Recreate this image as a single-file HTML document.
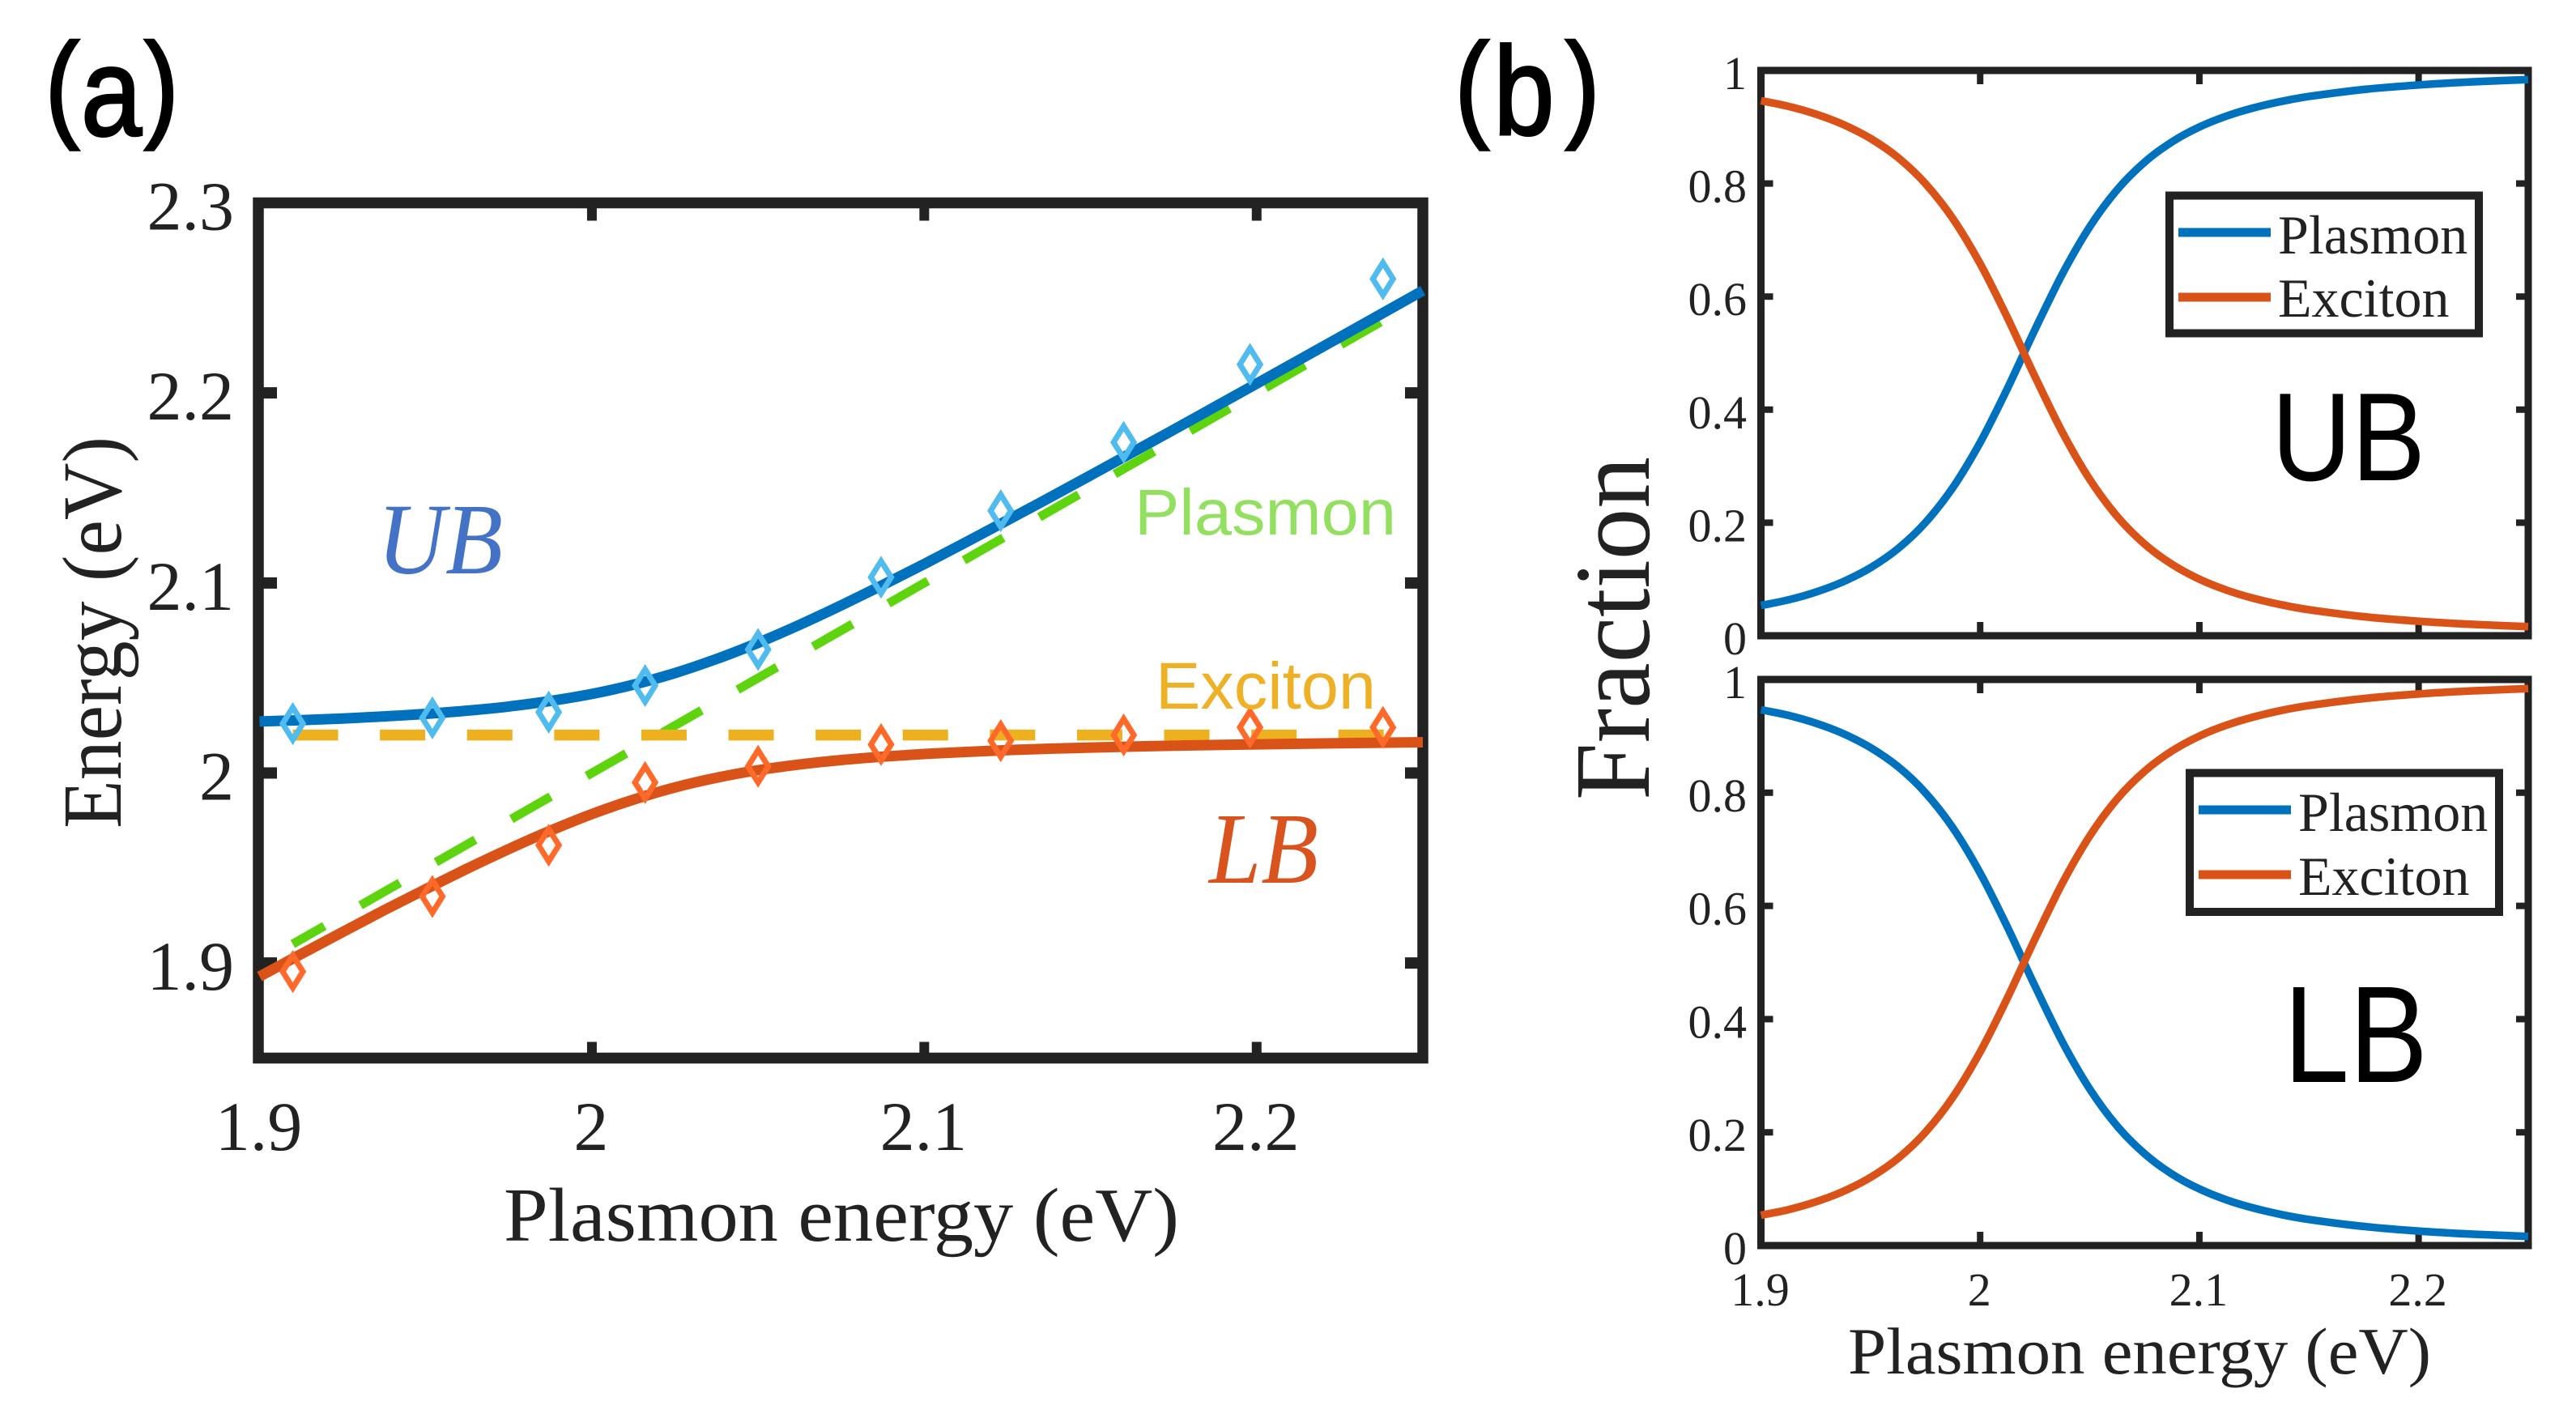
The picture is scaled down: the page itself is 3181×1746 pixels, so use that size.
<!DOCTYPE html>
<html lang="en">
<head>
<meta charset="utf-8">
<title>Plasmon-exciton coupling chart</title>
<style>
html,body{margin:0;padding:0;background:#fff;}
svg{display:block;}
.serif{font-family:"Liberation Serif",serif;fill:#222;}
.sans{font-family:"Liberation Sans",sans-serif;}
</style>
</head>
<body>
<svg id="chart" xmlns="http://www.w3.org/2000/svg" width="3181" height="1746" viewBox="0 0 3181 1746">
  <rect x="0" y="0" width="3181" height="1746" fill="#fff"/>
  <g id="panelA"></g>
  <g id="panelB1"></g>
  <g id="panelB2"></g>

  <text class="sans" transform="scale(0.87 1)" fill="#000" stroke="#000" stroke-width="3"><tspan x="64" y="155" font-size="146">(</tspan><tspan x="115" y="167" font-size="155">a</tspan><tspan x="205" y="155" font-size="146">)</tspan></text>
  <text class="sans" transform="scale(0.87 1)" fill="#000" stroke="#000" stroke-width="3"><tspan x="2065" y="155" font-size="146">(</tspan><tspan x="2120" y="166" font-size="155">b</tspan><tspan x="2222" y="155" font-size="146">)</tspan></text>

  <text class="serif" x="622" y="1532" font-size="94" textLength="834" lengthAdjust="spacingAndGlyphs">Plasmon energy (eV)</text>
  <text class="serif" transform="translate(149,1023) rotate(-90)" font-size="104" textLength="484" lengthAdjust="spacingAndGlyphs">Energy (eV)</text>

  <text font-family="'Liberation Serif',serif" font-style="italic" x="466" y="708" font-size="125" fill="#4472c4" textLength="155" lengthAdjust="spacingAndGlyphs">UB</text>
  <text font-family="'Liberation Serif',serif" font-style="italic" x="1493" y="1090" font-size="125" fill="#d9531e" textLength="135" lengthAdjust="spacingAndGlyphs">LB</text>
  <text class="sans" x="1401" y="660" font-size="80" fill="#93e060" textLength="323" lengthAdjust="spacingAndGlyphs">Plasmon</text>
  <text class="sans" x="1427" y="875" font-size="82" fill="#eeb024" textLength="272" lengthAdjust="spacingAndGlyphs">Exciton</text>

  <text class="serif" transform="translate(2036,988) rotate(-90)" font-size="133" textLength="424" lengthAdjust="spacingAndGlyphs">Fraction</text>
  <text class="serif" x="2282" y="1696" font-size="82" textLength="720" lengthAdjust="spacingAndGlyphs">Plasmon energy (eV)</text>

  <text class="sans" x="2805" y="593" font-size="155" fill="#000" textLength="190" lengthAdjust="spacingAndGlyphs">UB</text>
  <text class="sans" x="2820" y="1336" font-size="170" fill="#000" textLength="178" lengthAdjust="spacingAndGlyphs">LB</text>
</svg>
<script>
// Panel (a) data
const energyGrid = [1.9,1.9125,1.925,1.9375,1.95,1.9625,1.975,1.9875,2,2.0125,2.025,2.0375,2.05,2.0625,2.075,2.0875,2.1,2.1125,2.125,2.1375,2.15,2.175,2.2,2.225,2.25];
const ubFit = [2.0271,2.0278,2.0287,2.0298,2.0311,2.0328,2.035,2.0379,2.0416,2.0465,2.0526,2.06,2.0685,2.078,2.0882,2.0989,2.11,2.1214,2.133,2.1447,2.1566,2.1806,2.2049,2.2293,2.2538];
const lbFit = [1.8929,1.9047,1.9163,1.9278,1.9389,1.9497,1.96,1.9696,1.9784,1.986,1.9924,1.9975,2.0015,2.0045,2.0068,2.0086,2.01,2.0111,2.012,2.0128,2.0134,2.0144,2.0151,2.0157,2.0162];
const plasmonLineX = [1.91,2.24];
const plasmonLineY = [1.91,2.24];
const excitonLineX = [1.91,2.24];
const excitonLineY = [2.02,2.02];
const measuredX = [1.91,1.952,1.987,2.016,2.05,2.087,2.123,2.16,2.198,2.238];
const measuredUB = [2.026,2.029,2.032,2.046,2.065,2.103,2.138,2.174,2.215,2.26];
const measuredLB = [1.8955,1.935,1.962,1.995,2.0035,2.015,2.017,2.02,2.024,2.024];
const aXTicks = [1.9,2,2.1,2.2];
const aXTickLabels = ['1.9','2','2.1','2.2'];
const aYTicks = [1.9,2,2.1,2.2,2.3];
const aYTickLabels = ['1.9','2','2.1','2.2','2.3'];

// Panel (b) data
const ubPlasmonFraction = [0.0535,0.0634,0.0772,0.0956,0.1204,0.154,0.2,0.2619,0.3419,0.438,0.5415,0.64,0.7236,0.789,0.8378,0.8737,0.9,0.9195,0.9341,0.9453,0.954,0.9663,0.9744,0.9799,0.9838];
const ubExcitonFraction = [0.9465,0.9366,0.9228,0.9044,0.8796,0.846,0.8,0.7381,0.6581,0.562,0.4585,0.36,0.2764,0.211,0.1622,0.1263,0.1,0.0805,0.0659,0.0547,0.046,0.0337,0.0256,0.0201,0.0162];
const lbPlasmonFraction = [0.9465,0.9366,0.9228,0.9044,0.8796,0.846,0.8,0.7381,0.6581,0.562,0.4585,0.36,0.2764,0.211,0.1622,0.1263,0.1,0.0805,0.0659,0.0547,0.046,0.0337,0.0256,0.0201,0.0162];
const lbExcitonFraction = [0.0535,0.0634,0.0772,0.0956,0.1204,0.154,0.2,0.2619,0.3419,0.438,0.5415,0.64,0.7236,0.789,0.8378,0.8737,0.9,0.9195,0.9341,0.9453,0.954,0.9663,0.9744,0.9799,0.9838];
const bXTicks = [1.9,2,2.1,2.2];
const bXTickLabels = ['1.9','2','2.1','2.2'];
const bYTicks = [0,0.2,0.4,0.6,0.8,1];
const bYTickLabels = ['0','0.2','0.4','0.6','0.8','1'];
const legendLabels = ['Plasmon','Exciton'];

const NS = 'http://www.w3.org/2000/svg';
const COLORS = {blue:'#0072bd', red:'#d95319', green:'#5ed40f', amber:'#edb120', mBlue:'#4fbbee', mRed:'#ff6a2a', frame:'#222222'};

function svgEl(parent, tag, attrs) {
  const el = document.createElementNS(NS, tag);
  for (const k in attrs) el.setAttribute(k, attrs[k]);
  parent.appendChild(el);
  return el;
}
function smoothPath(xs, ys, X, Y) {
  const n = xs.length;
  const p = xs.map((v, i) => [X(v), Y(ys[i])]);
  const slope = i => {
    const a = p[Math.max(i - 1, 0)], b = p[Math.min(i + 1, n - 1)];
    return (b[1] - a[1]) / (b[0] - a[0]);
  };
  let d = 'M' + p[0][0].toFixed(1) + ' ' + p[0][1].toFixed(1);
  for (let i = 0; i < n - 1; i++) {
    const dx = (p[i + 1][0] - p[i][0]) / 3;
    const c1x = p[i][0] + dx, c1y = p[i][1] + slope(i) * dx;
    const c2x = p[i + 1][0] - dx, c2y = p[i + 1][1] - slope(i + 1) * dx;
    d += 'C' + c1x.toFixed(1) + ' ' + c1y.toFixed(1) + ' ' + c2x.toFixed(1) + ' ' + c2y.toFixed(1) + ' ' + p[i + 1][0].toFixed(1) + ' ' + p[i + 1][1].toFixed(1);
  }
  return d;
}

/* ---------- Panel (a) ---------- */
const ax = {left:320.5, right:1757, top:250.5, bottom:1306.5, xMin:1.9, xMax:2.25, yMin:1.85, yMax:2.3};
const xA = v => ax.left + (v - ax.xMin) / (ax.xMax - ax.xMin) * (ax.right - ax.left);
const yA = v => ax.bottom - (v - ax.yMin) / (ax.yMax - ax.yMin) * (ax.bottom - ax.top);
const panelA = document.getElementById('panelA');

const frameA = svgEl(panelA, 'rect', {x:319, y:ax.top, width:ax.right - 319, height:ax.bottom - ax.top, fill:'none', stroke:COLORS.frame, 'stroke-width':13.5});



aXTicks.forEach((v, i) => {
  if (v > ax.xMin) {
    const t1 = svgEl(panelA, 'line', {x1:xA(v), x2:xA(v), y1:ax.top, y2:ax.top + 22, stroke:COLORS.frame, 'stroke-width':12});
    
    
    const t2 = svgEl(panelA, 'line', {x1:xA(v), x2:xA(v), y1:ax.bottom, y2:ax.bottom - 20, stroke:COLORS.frame, 'stroke-width':12});
    
    
  }
  const lab = svgEl(panelA, 'text', {x:xA(v) - 1, y:1420, 'text-anchor':'middle', 'font-size':86, class:'serif'});
  
  
  lab.textContent = aXTickLabels[i];
});
aYTicks.forEach((v, i) => {
  if (v < ax.yMax) {
    const t1 = svgEl(panelA, 'line', {x1:319, x2:342, y1:yA(v), y2:yA(v), stroke:COLORS.frame, 'stroke-width':14});
    
    
    const t2 = svgEl(panelA, 'line', {x1:ax.right, x2:ax.right - 22, y1:yA(v), y2:yA(v), stroke:COLORS.frame, 'stroke-width':14});
    
    
  }
  const lab = svgEl(panelA, 'text', {x:289, y:yA(v) + 33, 'text-anchor':'end', 'font-size':86, class:'serif'});
  
  
  lab.textContent = aYTickLabels[i];
});

const plasmonLine = svgEl(panelA, 'line', {x1:xA(plasmonLineX[0]), y1:yA(plasmonLineY[0]), x2:xA(plasmonLineX[1]), y2:yA(plasmonLineY[1]), stroke:COLORS.green, 'stroke-width':11, 'stroke-dasharray':'56 51.3', 'stroke-dashoffset':11});


const excitonLine = svgEl(panelA, 'line', {x1:xA(excitonLineX[0]), y1:yA(excitonLineY[0]), x2:xA(excitonLineX[1]), y2:yA(excitonLineY[1]), stroke:COLORS.amber, 'stroke-width':13.5, 'stroke-dasharray':'56 51.6'});



const ubCurve = svgEl(panelA, 'path', {d:smoothPath(energyGrid, ubFit, xA, yA), fill:'none', stroke:COLORS.blue, 'stroke-width':13});


const lbCurve = svgEl(panelA, 'path', {d:smoothPath(energyGrid, lbFit, xA, yA), fill:'none', stroke:COLORS.red, 'stroke-width':13});



function diamond(v, w, color) {
  const cx = xA(v), cy = yA(w);
  return {d:'M' + cx + ' ' + (cy - 20) + 'L' + (cx + 12.5) + ' ' + cy + 'L' + cx + ' ' + (cy + 20) + 'L' + (cx - 12.5) + ' ' + cy + 'Z', fill:'none', stroke:color, 'stroke-width':7, 'stroke-miterlimit':10};
}
measuredX.forEach((v, i) => {
  const mu = svgEl(panelA, 'path', diamond(v, measuredUB[i], COLORS.mBlue));
  
  
  const ml = svgEl(panelA, 'path', diamond(v, measuredLB[i], COLORS.mRed));
  
  
});

/* ---------- Panel (b) ---------- */
function drawFraction(parent, box, blueSeries, redSeries, legend, showXLabels) {
  const X = v => box.left + (v - 1.9) / 0.35 * (box.right - box.left);
  const Y = v => box.bottom - v * (box.bottom - box.top);

  const frame = svgEl(parent, 'rect', {x:box.left, y:box.top, width:box.right - box.left, height:box.bottom - box.top, fill:'none', stroke:COLORS.frame, 'stroke-width':9});
  
  

  bXTicks.forEach((v, i) => {
    if (v > 1.9) {
      const t1 = svgEl(parent, 'line', {x1:X(v), x2:X(v), y1:box.top, y2:box.top + 17, stroke:COLORS.frame, 'stroke-width':8});
      
      
      const t2 = svgEl(parent, 'line', {x1:X(v), x2:X(v), y1:box.bottom, y2:box.bottom - 17, stroke:COLORS.frame, 'stroke-width':8});
      
      
    }
    if (showXLabels) {
      const lab = svgEl(parent, 'text', {x:X(v) - 1, y:1612, 'text-anchor':'middle', 'font-size':58, class:'serif'});
      
      
      lab.textContent = bXTickLabels[i];
    }
  });
  bYTicks.forEach((v, i) => {
    if (v > 0 && v < 1) {
      const t1 = svgEl(parent, 'line', {x1:box.left, x2:box.left + 15, y1:Y(v), y2:Y(v), stroke:COLORS.frame, 'stroke-width':8});
      
      
      const t2 = svgEl(parent, 'line', {x1:box.right, x2:box.right - 15, y1:Y(v), y2:Y(v), stroke:COLORS.frame, 'stroke-width':8});
      
      
    }
    const lab = svgEl(parent, 'text', {x:2157, y:Y(v) + 23, 'text-anchor':'end', 'font-size':58, class:'serif'});
    
    
    lab.textContent = bYTickLabels[i];
  });

  const blue = svgEl(parent, 'path', {d:smoothPath(energyGrid, blueSeries, X, Y), fill:'none', stroke:COLORS.blue, 'stroke-width':9.5});
  
  
  const red = svgEl(parent, 'path', {d:smoothPath(energyGrid, redSeries, X, Y), fill:'none', stroke:COLORS.red, 'stroke-width':9.5});
  
  

  const lg = svgEl(parent, 'g', {});
  
  
  const lbox = svgEl(lg, 'rect', {x:legend.x, y:legend.y, width:382, height:legend.h, fill:'#fff', stroke:'#222', 'stroke-width':10});
  
  
  legendLabels.forEach((name, i) => {
    const ly = legend.lineY[i];
    const sw = svgEl(lg, 'line', {x1:legend.x + 11, x2:legend.x + 125, y1:ly, y2:ly, stroke:i === 0 ? COLORS.blue : COLORS.red, 'stroke-width':11});
    
    
    const tx = svgEl(lg, 'text', {x:legend.x + 134, y:legend.textY[i], 'font-size':68, class:'serif'});
    
    
    tx.textContent = name;
  });
}
drawFraction(document.getElementById('panelB1'), {left:2174.5, right:3122, top:87, bottom:785}, ubPlasmonFraction, ubExcitonFraction,
  {x:2679, y:241.5, h:170, lineY:[287,367], textY:[313,391]}, false);
drawFraction(document.getElementById('panelB2'), {left:2174.5, right:3122, top:839, bottom:1538}, lbPlasmonFraction, lbExcitonFraction,
  {x:2704, y:954.5, h:171.5, lineY:[1000,1080], textY:[1026,1105]}, true);
</script>
</body>
</html>
